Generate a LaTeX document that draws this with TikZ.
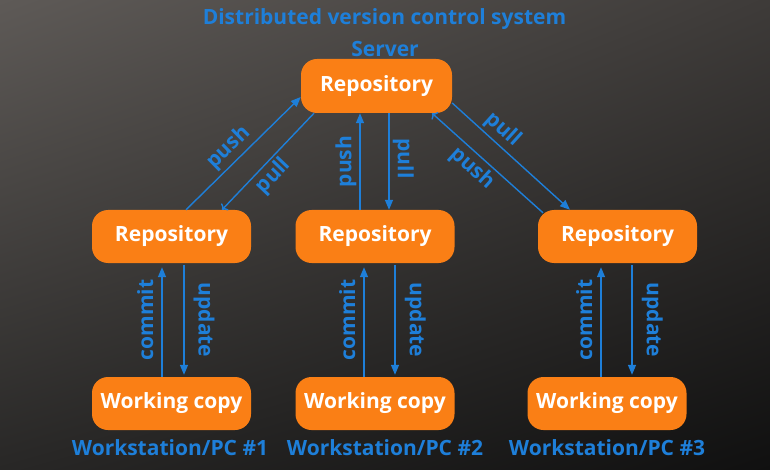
\documentclass[tikz,border=0pt]{standalone}
\usepackage{fontspec}
\setmainfont{Open Sans}
\usetikzlibrary{arrows.meta}
\usetikzlibrary{shadings}
\definecolor{boxOrange}{HTML}{FA7F15}
\definecolor{lineBlue}{HTML}{1E7FD9}
\definecolor{bgUL}{RGB}{94,90,87}
\definecolor{bgUR}{RGB}{62,59,57}
\definecolor{bgLL}{RGB}{40,39,38}
\definecolor{bgLR}{RGB}{16,16,16}
\newcommand{\drawFlowArrow}[5]{
	\draw[flowline, #1] (#2) -- node[flowlabel, #5] {#4} (#3);
}

\begin{document}
\begin{tikzpicture}[x=1pt, y=-1pt,
		box/.style={fill=boxOrange, rounded corners=16pt, minimum width=159pt, minimum height=53pt,
			text=white, font=\fontsize{21}{24}\selectfont\bfseries, inner sep=0pt},
		caption/.style={text=lineBlue, font=\fontsize{21}{24}\selectfont\bfseries, inner sep=0pt},
		flowline/.style={lineBlue, line width=1.4pt, -{Triangle[length=10pt,width=8pt]}},
		flowlabel/.style={sloped, text=lineBlue, font=\fontsize{21}{24}\selectfont\bfseries, inner sep=3pt}]
		% background
		\shade[upper left=bgUL, upper right=bgUR, lower left=bgLL, lower right=bgLR]
			(0,0) rectangle (770,470);
		\useasboundingbox (0,0) rectangle (770,470);

		\node[caption] (title) at (384.5,19) {Distributed version control system};
		\node[caption] (server) at (385,49) {Server};

		\node[box, minimum width=151pt, minimum height=54pt] (top) at (376.5,86) {Repository};
		\node[box] (repoA) at (171.5,236.5) {Repository};
		\node[box] (repoB) at (375,236.5) {Repository};
		\node[box] (repoC) at (617.5,236.5) {Repository};
		\node[box] (copyA) at (171.5,403.5) {Working copy};
		\node[box] (copyB) at (375,403.5) {Working copy};
		\node[box] (copyC) at (607,403.5) {Working copy};

		\node[caption] (pcA) at (170,448) {Workstation/PC \#1};
		\node[caption] (pcB) at (385,448) {Workstation/PC \#2};
		\node[caption] (pcC) at (607,448) {Workstation/PC \#3};

		% server <-> workstations
		\drawFlowArrow{}{[xshift=14.5pt]repoA.north}{[yshift=-11pt]top.west}{push}{above, pos=0.46}
		\drawFlowArrow{<-}{[xshift=50.5pt]repoA.north}{[xshift=-62.5pt]top.south}{pull}{below, pos=0.45}
		\drawFlowArrow{}{[xshift=-15pt]repoB.north}{[xshift=-15pt]repoB.north |- top.south}{push}{above}
		\drawFlowArrow{}{[xshift=14pt]repoB.north |- top.south}{[xshift=14pt]repoB.north}{pull}{above, pos=0.47}
		\drawFlowArrow{}{[yshift=-17pt]top.east}{[xshift=-47.5pt]repoC.north}{pull}{above, pos=0.35}
		\drawFlowArrow{<-}{[xshift=55.5pt]top.south}{[xshift=-74.5pt,yshift=-3pt]repoC.north}{push}{below, pos=0.45}

		% working copy <-> local repository
		\drawFlowArrow{shorten >=4pt}{[xshift=-9.5pt]copyA.north}{[xshift=-9.5pt]copyA.north |- repoA.south}{commit}{above, inner sep=8pt}
		\drawFlowArrow{shorten <=2pt, shorten >=2pt}{[xshift=12.5pt]copyA.north |- repoA.south}{[xshift=12.5pt]copyA.north}{update}{above, inner sep=9pt}
		\drawFlowArrow{shorten >=4pt}{[xshift=-11pt]copyB.north}{[xshift=-11pt]copyB.north |- repoB.south}{commit}{above, inner sep=8pt}
		\drawFlowArrow{shorten <=2pt, shorten >=2pt}{[xshift=20pt]copyB.north |- repoB.south}{[xshift=20pt]copyB.north}{update}{above, inner sep=9pt}
		\drawFlowArrow{shorten >=4pt}{[xshift=-6pt]copyC.north}{[xshift=-6pt]copyC.north |- repoC.south}{commit}{above, inner sep=8pt}
		\drawFlowArrow{shorten <=2pt, shorten >=2pt}{[xshift=25pt]copyC.north |- repoC.south}{[xshift=25pt]copyC.north}{update}{above, inner sep=9pt}
	\end{tikzpicture}
\end{document}
